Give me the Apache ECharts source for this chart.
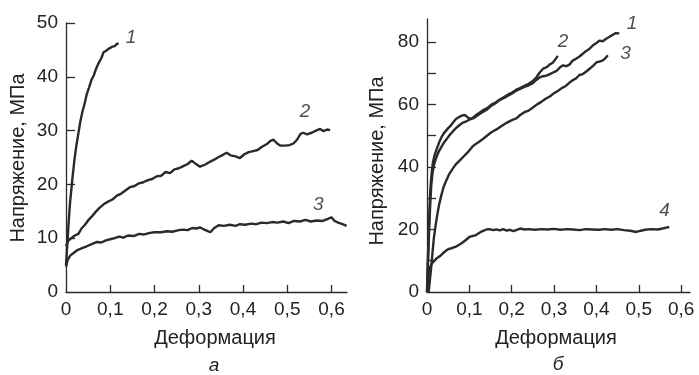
<!DOCTYPE html>
<html><head><meta charset="utf-8">
<script src="https://cdn.jsdelivr.net/npm/echarts@6/dist/echarts.min.js"></script>
<style>html,body{margin:0;padding:0;background:#fff}#c{width:699px;height:375px}</style>
</head><body><div id="c"></div>
<script>
// Panel "а"
const a1 = [[0,5],[0.003,9],[0.006,13],[0.009,16.5],[0.012,19],[0.015,21.5],[0.019,24.5],[0.023,27],[0.027,29],[0.032,31.5],[0.037,33.5],[0.042,35],[0.047,36.8],[0.052,38],[0.058,39.5],[0.063,40.3],[0.068,41.5],[0.074,42.6],[0.08,43.5],[0.085,44.6],[0.09,44.8],[0.096,45.2],[0.1,45.1],[0.105,45.6],[0.11,45.7],[0.115,46.1],[0.119,46.2]];
const a2 = [[0,8.5],[0.005,9.5],[0.012,10],[0.02,10.5],[0.028,10.8],[0.035,11.8],[0.042,12.4],[0.05,13.3],[0.058,14],[0.066,14.8],[0.075,15.6],[0.085,16.3],[0.095,16.8],[0.105,17.2],[0.115,17.9],[0.125,18.3],[0.135,18.9],[0.145,19.5],[0.155,19.7],[0.165,20.2],[0.175,20.4],[0.185,20.8],[0.195,21],[0.205,21.5],[0.215,21.6],[0.225,22.3],[0.235,22.1],[0.245,22.8],[0.255,23],[0.265,23.4],[0.275,23.8],[0.284,24.4],[0.292,23.9],[0.303,23.3],[0.315,23.7],[0.325,24.2],[0.335,24.6],[0.345,25.1],[0.355,25.5],[0.363,25.9],[0.372,25.4],[0.383,25.2],[0.393,24.9],[0.403,25.6],[0.413,26],[0.423,26.2],[0.433,26.4],[0.443,27],[0.454,27.5],[0.462,28.1],[0.469,28.3],[0.477,27.6],[0.485,27.2],[0.495,27.2],[0.505,27.3],[0.514,27.6],[0.522,28.3],[0.53,29.4],[0.536,29.6],[0.545,29.3],[0.555,29.6],[0.565,30],[0.574,30.3],[0.582,29.9],[0.59,30.2],[0.597,30.1]];
const a3 = [[0,4.7],[0.004,6],[0.01,6.8],[0.018,7.3],[0.026,7.8],[0.035,8.1],[0.047,8.5],[0.058,8.9],[0.07,9.3],[0.08,9.2],[0.09,9.6],[0.1,9.8],[0.11,10],[0.12,10.3],[0.13,10.1],[0.14,10.5],[0.153,10.4],[0.165,10.8],[0.177,10.7],[0.19,11],[0.2,11.1],[0.215,11.1],[0.228,11.3],[0.24,11.2],[0.255,11.5],[0.265,11.6],[0.275,11.5],[0.285,11.9],[0.295,11.8],[0.303,12],[0.31,11.7],[0.318,11.4],[0.326,11.1],[0.335,11.9],[0.345,12.4],[0.357,12.3],[0.37,12.5],[0.383,12.3],[0.393,12.6],[0.405,12.5],[0.418,12.7],[0.43,12.6],[0.442,12.9],[0.454,12.8],[0.466,13],[0.478,12.9],[0.491,13.1],[0.503,12.8],[0.515,13.2],[0.529,13.1],[0.541,13.4],[0.553,13.1],[0.567,13.3],[0.58,13.2],[0.592,13.6],[0.6,13.9],[0.607,13.2],[0.615,12.9],[0.625,12.6],[0.634,12.3]];
// Panel "б"
const b1 = [[0,0],[0.002,8],[0.004,16],[0.006,23],[0.008,29],[0.01,34],[0.013,38],[0.017,41],[0.022,43],[0.028,45],[0.034,46.4],[0.041,48],[0.048,49.2],[0.054,50.3],[0.062,51.5],[0.07,52.6],[0.077,53.4],[0.085,54.2],[0.093,54.6],[0.1,55.1],[0.11,55.6],[0.12,56.5],[0.132,57.6],[0.142,58.4],[0.152,59.6],[0.162,60.4],[0.171,61.3],[0.181,62],[0.191,62.8],[0.201,63.5],[0.211,64.4],[0.221,65],[0.23,65.6],[0.24,66.1],[0.25,66.8],[0.258,67.8],[0.266,68.6],[0.274,69],[0.282,69.2],[0.29,69.7],[0.298,70.2],[0.305,70.6],[0.313,71.7],[0.321,72.5],[0.329,72.2],[0.337,72.8],[0.344,74],[0.352,74.6],[0.36,75.3],[0.368,76.2],[0.376,77.1],[0.384,77.8],[0.392,78.9],[0.4,79.6],[0.407,80.4],[0.415,80.2],[0.423,81],[0.431,81.6],[0.438,82.2],[0.446,82.8],[0.454,82.7]];
const b2 = [[0,0],[0.002,10],[0.004,19],[0.006,27],[0.008,33],[0.011,38],[0.014,41.5],[0.018,43.8],[0.022,45.4],[0.026,46.8],[0.03,48.3],[0.035,49.7],[0.04,50.8],[0.045,51.6],[0.05,52.4],[0.056,53.2],[0.062,54.3],[0.069,55.4],[0.075,55.9],[0.082,56.4],[0.089,56.6],[0.095,56],[0.1,55.4],[0.107,55.6],[0.115,56.5],[0.124,57.3],[0.132,58.1],[0.142,58.8],[0.152,59.9],[0.162,60.6],[0.171,61.5],[0.181,62.3],[0.191,63.1],[0.201,63.8],[0.211,64.7],[0.221,65.3],[0.23,65.9],[0.24,66.6],[0.25,67.5],[0.258,68.6],[0.266,70.2],[0.274,71.4],[0.282,71.8],[0.29,72.8],[0.297,73.3],[0.303,74.4],[0.309,75.5]];
const b3 = [[0.004,0],[0.007,4],[0.01,8],[0.013,12.5],[0.016,17],[0.02,21],[0.024,24.5],[0.028,27.5],[0.033,30.5],[0.039,33.5],[0.045,35.5],[0.052,37.6],[0.06,39.3],[0.068,40.8],[0.077,42],[0.087,43.4],[0.097,44.8],[0.108,46.6],[0.118,47.6],[0.128,48.5],[0.14,49.8],[0.152,51.1],[0.164,52],[0.176,53.1],[0.188,54.1],[0.199,54.9],[0.211,55.5],[0.22,56.6],[0.23,57.5],[0.24,58],[0.25,59],[0.26,60],[0.27,60.8],[0.28,61.8],[0.29,62.5],[0.3,63.6],[0.309,64.3],[0.318,65.2],[0.327,65.8],[0.336,66.9],[0.344,67.7],[0.352,68.3],[0.36,69.4],[0.368,69.7],[0.376,70.5],[0.384,71.4],[0.392,72.3],[0.4,73.4],[0.407,73.7],[0.414,74],[0.42,74.6],[0.427,75.7]];
const b4 = [[0,0],[0.002,3],[0.004,6],[0.007,8],[0.012,9.2],[0.018,10.1],[0.024,10.9],[0.03,11.4],[0.037,12.3],[0.044,13.1],[0.05,13.7],[0.056,13.9],[0.063,14.3],[0.07,14.6],[0.077,15.2],[0.085,15.9],[0.093,16.8],[0.1,17.6],[0.107,17.9],[0.114,18.1],[0.12,18.6],[0.127,19.2],[0.134,19.6],[0.14,20],[0.148,20.1],[0.156,19.8],[0.164,20],[0.172,19.7],[0.18,20.1],[0.188,19.6],[0.196,19.9],[0.204,19.5],[0.212,19.9],[0.22,20.3],[0.23,20],[0.24,20.1],[0.255,19.9],[0.27,20.1],[0.285,20],[0.3,20.2],[0.315,19.9],[0.33,20.1],[0.345,20],[0.36,19.8],[0.375,20.1],[0.39,20],[0.405,19.9],[0.42,20.1],[0.435,19.9],[0.45,20.1],[0.465,19.8],[0.48,19.6],[0.494,19.2],[0.505,19.6],[0.515,19.9],[0.53,20.1],[0.545,20],[0.556,20.3],[0.565,20.6],[0.572,20.8]];
// curve number labels (data coordinates)
const labelsA = [[0.147,47.2,'1'],[0.54,33.5,'2'],[0.57,16.2,'3']];
const labelsB = [[0.484,85.7,'1'],[0.321,80,'2'],[0.469,76.3,'3'],[0.561,26.1,'4']];
// ticks
const xTicks = [0,0.1,0.2,0.3,0.4,0.5,0.6];
const yTicksA = [0,10,20,30,40,50];
const yTicksB = [0,10,20,30,40,50,60,70,80];
const yLabelsB = [0,20,40,60,80];
const xTitle = 'Деформация';
const yTitle = 'Напряжение, МПа';
const panelTitles = ['а','б'];

const FONT = 'Liberation Sans, Arial, sans-serif';
const ink = '#2a2a2a';
const fmtX = v => v === 0 ? '0' : (Math.round(v*10)/10).toFixed(1).replace('.', ',');

function xAxis(gi, max){
  return {type:'value', gridIndex:gi, min:0, max:max,
    axisLine:{show:true, onZero:false, lineStyle:{color:ink, width:1.3}},
    axisTick:{show:true, inside:true, length:7, customValues:xTicks.slice(1), lineStyle:{color:ink, width:1.3}},
    axisLabel:{customValues:xTicks, formatter:fmtX, fontFamily:FONT, fontSize:19, color:'#222', margin:8},
    splitLine:{show:false}};
}
function yAxis(gi, max, ticks, labels){
  return {type:'value', gridIndex:gi, min:0, max:max,
    axisLine:{show:true, onZero:false, lineStyle:{color:ink, width:1.3}},
    axisTick:{show:true, inside:true, length:9, customValues:ticks.slice(1), lineStyle:{color:ink, width:1.3}},
    axisLabel:{customValues:labels, fontFamily:FONT, fontSize:19, color:'#222', margin:8},
    splitLine:{show:false}};
}
function line(d, xi){
  return {type:'line', xAxisIndex:xi, yAxisIndex:xi, data:d, showSymbol:false, smooth:false,
    lineStyle:{color:ink, width:2.4}, z:3, silent:true};
}
function lbl(d, xi){
  return {type:'scatter', xAxisIndex:xi, yAxisIndex:xi, data:d, symbolSize:0, silent:true,
    label:{show:true, position:'inside', formatter:p=>p.value[2], fontFamily:FONT, fontSize:19, fontStyle:'italic', color:'#222'}};
}
const txt = (x,y,s,rot,italic) => ({type:'text', x:x, y:y, rotation:rot||0,
  style:{text:s, fontFamily:FONT, fontSize:italic?19:20, fontStyle:italic?'italic':'normal', fill:'#222', align:'center', verticalAlign:'middle'}});

const chart = echarts.init(document.getElementById('c'), null, {renderer:'canvas'});
chart.setOption({
  animation:false,
  backgroundColor:'#fff',
  grid:[{left:66, top:23, width:281, height:269},{left:427, top:19, width:263, height:273}],
  xAxis:[xAxis(0,0.635), xAxis(1,0.621)],
  yAxis:[yAxis(0,50,yTicksA,yTicksA), yAxis(1,87.3,yTicksB,yLabelsB)],
  series:[line(a1,0),line(a2,0),line(a3,0),line(b1,1),line(b2,1),line(b3,1),line(b4,1),lbl(labelsA,0),lbl(labelsB,1)],
  graphic:[
    txt(215,338,xTitle), txt(556,338,xTitle),
    txt(18,158,yTitle,Math.PI/2), txt(377,161,yTitle,Math.PI/2),
    txt(214,366,panelTitles[0],0,true), txt(558,365,panelTitles[1],0,true)
  ]
});
</script></body></html>
